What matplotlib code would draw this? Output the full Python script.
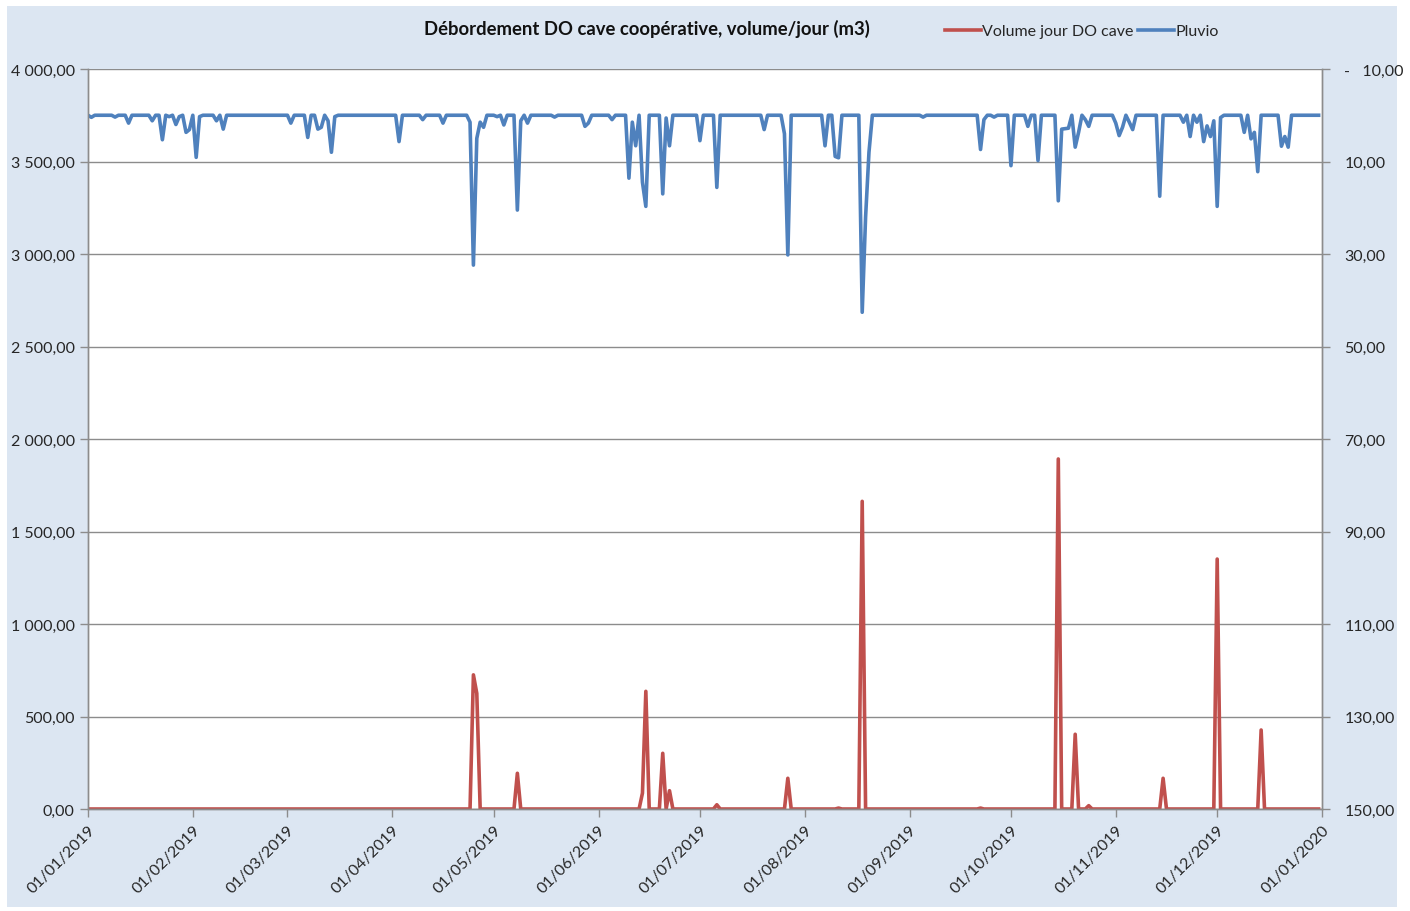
import matplotlib
matplotlib.use("Agg")
import matplotlib.pyplot as plt
import matplotlib.dates as mdates
from matplotlib.patches import Rectangle
from matplotlib.ticker import FuncFormatter
import numpy as np
import pandas as pd

### data (day offset from 01/01/2019 -> value, other days are 0)
start = "2019-01-01"
n_days = 365

volume_days = [114, 115, 127, 164, 165, 170, 172, 186, 207, 222, 229, 264, 287, 292, 296, 318, 334, 347]
volume_m3 = [725, 625, 193, 86, 636, 301, 99, 23, 166, 5, 1663, 5, 1892, 404, 18, 166, 1351, 427]

pluvio_days = [1, 8, 12, 19, 22, 24, 26, 27, 29, 30, 32, 33, 38, 40, 60, 65, 68, 69, 71, 72, 73,
               92, 99, 105, 113, 114, 115, 116, 117, 121, 123, 127, 128, 130, 138, 147, 148, 155,
               160, 161, 162, 164, 165, 170, 171, 172, 181, 186, 200, 206, 207, 218, 221, 222,
               229, 230, 231, 247, 264, 265, 268, 273, 278, 281, 287, 288, 289, 290, 292, 293,
               295, 296, 304, 305, 306, 308, 309, 317, 324, 326, 328, 330, 331, 332, 333, 334,
               335, 342, 344, 345, 346, 353, 354, 355]
pluvio_mm = [0.45, 0.4, 1.7, 1.2, 5.3, 0.3, 2.0, 0.3, 3.7, 3.1, 9.1, 0.3, 1.2, 3.0, 1.7, 4.8, 3.0, 2.6, 1.2, 8.0, 0.3,
             5.7, 0.95, 1.7, 1.5, 32.4, 5.0, 1.5, 2.6, 0.3, 2.1, 20.5, 1.2, 1.7, 0.4, 2.4, 1.7, 0.95,
             13.6, 1.5, 6.6, 14.5, 19.7, 17.0, 0.6, 6.6, 5.5, 15.6, 3.1, 4.0, 30.2, 6.6, 8.9, 9.2,
             42.6, 22.0, 8.0, 0.4, 7.4, 0.95, 0.4, 10.9, 2.4, 9.8, 18.5, 3.0, 2.9, 2.8, 6.9, 3.7,
             0.95, 2.4, 1.7, 4.4, 2.6, 1.5, 3.1, 17.5, 1.5, 4.6, 1.5, 5.7, 2.3, 4.6, 1.2, 19.7,
             0.5, 3.7, 5.1, 3.7, 12.2, 6.7, 4.6, 6.9]

left_ticks = [0, 500, 1000, 1500, 2000, 2500, 3000, 3500, 4000]
right_ticks = [-10, 10, 30, 50, 70, 90, 110, 130, 150]

dates = pd.date_range(start, periods=n_days, freq="D")
volume = np.zeros(n_days)
volume[volume_days] = volume_m3
pluvio = np.zeros(n_days)
pluvio[pluvio_days] = pluvio_mm

red = "#c0504d"
blue = "#4f81bd"
grid = "#8c8c8c"
txt = "#262626"
plt.rcParams["font.family"] = ["Lato", "DejaVu Sans"]

fig = plt.figure(figsize=(14.1, 9.12), dpi=100, facecolor="white")
fig.patches.append(Rectangle((7 / 1410, 4 / 912), 1390 / 1410, 901 / 912, transform=fig.transFigure,
                             facecolor="#dce6f2", edgecolor="none", zorder=-10))

ax = fig.add_axes([88 / 1410, 102 / 912, 1234 / 1410, 740 / 912])
ax.set_facecolor("white")
ax.plot(dates, volume, color=red, lw=2.6, label="Volume jour DO cave", solid_joinstyle="round")
ax.set_ylim(0, 4000)
ax.set_xlim(pd.Timestamp("2019-01-01"), pd.Timestamp("2020-01-01"))
ax.set_yticks(left_ticks)
ax.yaxis.set_major_formatter(FuncFormatter(lambda v, p: f"{v:,.2f}".replace(",", " ").replace(".", ",")))
ax.grid(axis="y", color=grid, lw=1)
ax.set_axisbelow(True)

ax.xaxis.set_major_locator(mdates.MonthLocator())
ax.xaxis.set_major_formatter(mdates.DateFormatter("%d/%m/%Y"))
plt.setp(ax.get_xticklabels(), rotation=45, ha="right", rotation_mode="anchor")

ax2 = ax.twinx()
ax2.plot(dates, pluvio, color=blue, lw=2.6, label="Pluvio", solid_joinstyle="round")
ax2.set_ylim(150, -10)
ax2.set_yticks(right_ticks)
ax2.yaxis.set_major_formatter(FuncFormatter(
    lambda v, p: ("-   " if v < 0 else "") + f"{abs(v):.2f}".replace(".", ",")))

for a in (ax, ax2):
    for s in a.spines.values():
        s.set_color(grid)
        s.set_linewidth(1)
    a.spines["top"].set_visible(False)
    a.tick_params(colors=txt, labelsize=11.5, length=6, width=1, direction="out")
    a.tick_params(axis="both", color=grid)
ax.tick_params(axis="x", labelsize=11.5, pad=4)
ax2.tick_params(axis="y", pad=10)

fig.text(647 / 1410, 1 - 29 / 912, "Débordement DO cave coopérative, volume/jour (m3)",
         ha="center", va="center", fontsize=13.3, fontweight="bold", color="#111111")

h1, l1 = ax.get_legend_handles_labels()
h2, l2 = ax2.get_legend_handles_labels()
fig.legend(h1 + h2, l1 + l2, loc="center", bbox_to_anchor=(1082 / 1410, 1 - 32 / 912), ncol=2,
           frameon=False, fontsize=11.5, handlelength=2.2, handletextpad=0.1, columnspacing=0.3,
           labelcolor=txt)

fig.savefig("out.png", dpi=100, facecolor="white")
